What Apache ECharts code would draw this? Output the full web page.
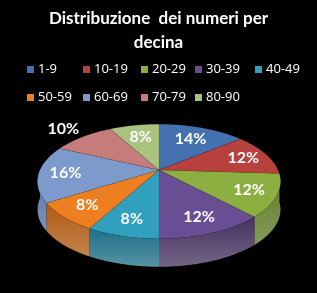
<!DOCTYPE html>
<html>
<head>
<meta charset="utf-8">
<script src="https://cdn.jsdelivr.net/npm/echarts@6/dist/echarts.min.js"></script>
<style>
    html, body { margin: 0; padding: 0; background: #000; }
    #chart { width: 317px; height: 293px; }
</style>
</head>
<body>
<div id="chart"></div>
<script>
    // dati
    var categories = ['1-9', '10-19', '20-29', '30-39', '40-49', '50-59', '60-69', '70-79', '80-90'];
    var percents = [14, 12, 12, 12, 8, 8, 16, 10, 8];
    var topColors = ['#4471B0', '#B8403D', '#8DAF42', '#6A4E94', '#31A0BE', '#EE7F20', '#7C9ACC', '#C57C7B', '#A9C27E'];
    var sideColors = ['#2C4F80', '#80292A', '#5E7A28', '#46325F', '#1F6F86', '#B05A12', '#5670A0', '#8E5454', '#78904F'];

    var myChart = echarts.init(document.getElementById('chart'));

    // geometria della torta 3D (prospettiva semplice)
    var CX = 159, CY = 170, RX = 119, RY = 55, K = 0.2, DEPTH = 28;
    var total = percents.reduce(function(a, b) { return a + b; }, 0);
    var starts = [];
    var acc = 0;
    percents.forEach(function(v) { starts.push(acc); acc += v; });

    function proj(theta, f, dy) {
        var u = Math.sin(theta) * f, v = -Math.cos(theta) * f;
        var w = 1 - K * v;
        return [CX + RX * u / w, CY + RY * v / w + (dy || 0)];
    }

    function angles(i) {
        var a = starts[i] / total * Math.PI * 2;
        var b = (starts[i] + percents[i]) / total * Math.PI * 2;
        return [a, b];
    }

    function arc(a, b, dy) {
        var pts = [];
        var n = Math.max(2, Math.ceil((b - a) / 0.01));
        for (var j = 0; j <= n; j++) {
            pts.push(proj(a + (b - a) * j / n, 1, dy));
        }
        return pts;
    }

    function renderSide(params, api) {
        var ab = angles(params.dataIndex);
        var a = Math.max(ab[0], Math.PI / 2), b = Math.min(ab[1], Math.PI * 1.5);
        if (b <= a) return null;
        var pts = arc(a, b, 0).concat(arc(a, b, DEPTH).reverse());
        return {
            type: 'polygon',
            shape: { points: pts },
            style: {
                fill: new echarts.graphic.LinearGradient(0, 0, 0, 1, [
                    { offset: 0, color: sideColors[params.dataIndex] },
                    { offset: 1, color: echarts.color.lift(sideColors[params.dataIndex], 0.25) }
                ])
            }
        };
    }

    function renderTop(params, api) {
        var i = params.dataIndex;
        var ab = angles(i);
        var pts = [[CX, CY]].concat(arc(ab[0], ab[1], 0));
        var mid = (ab[0] + ab[1]) / 2;
        var outside = categories[i] === '70-79';
        // etichette della metà posteriore un po' più vicine al centro
        var f = outside ? 1.3 : (Math.cos(mid) > 0.5 ? 0.7 : 0.78);
        var lp = proj(mid, f, 0);
        return {
            type: 'group',
            children: [{
                type: 'polygon',
                shape: { points: pts },
                style: { fill: topColors[i], stroke: 'rgba(0,0,0,0.15)', lineWidth: 0.5 }
            }, {
                type: 'text',
                x: lp[0], y: lp[1],
                style: {
                    text: api.value(0) + '%',
                    fill: '#fff',
                    font: 'bold 16px Lato',
                    align: 'center',
                    verticalAlign: 'middle'
                },
                z2: 10
            }]
        };
    }

    // legenda a colonne fisse, 5 voci per riga
    var legendCols = [22, 78, 136, 190, 250];
    var legends = categories.map(function(c, i) {
        return {
            data: [c],
            left: legendCols[i % 5],
            top: i < 5 ? 58 : 86,
            itemWidth: 7,
            itemHeight: 7,
            icon: 'rect',
            selectedMode: false,
            textStyle: { color: '#fff', fontFamily: 'Open Sans', fontSize: 13, padding: [0, 0, 0, -1] }
        };
    });

    var option = {
        backgroundColor: '#000',
        title: {
            text: 'Distribuzione  dei numeri per\ndecina',
            left: 'center',
            top: 2,
            textStyle: { color: '#fff', fontFamily: 'Lato', fontWeight: 'bold', fontSize: 17, lineHeight: 24 }
        },
        legend: legends,
        series: [{
            // solo per la legenda
            type: 'pie',
            radius: [0, 0],
            center: [-50, -50],
            silent: true,
            label: { show: false },
            data: categories.map(function(c, i) {
                return { name: c, value: percents[i], itemStyle: { color: topColors[i] } };
            })
        }, {
            type: 'custom',
            coordinateSystem: 'none',
            renderItem: renderSide,
            silent: true,
            z: 1,
            data: percents
        }, {
            type: 'custom',
            coordinateSystem: 'none',
            renderItem: renderTop,
            silent: true,
            z: 2,
            data: percents
        }]
    };

    myChart.setOption(option);
</script>
</body>
</html>
